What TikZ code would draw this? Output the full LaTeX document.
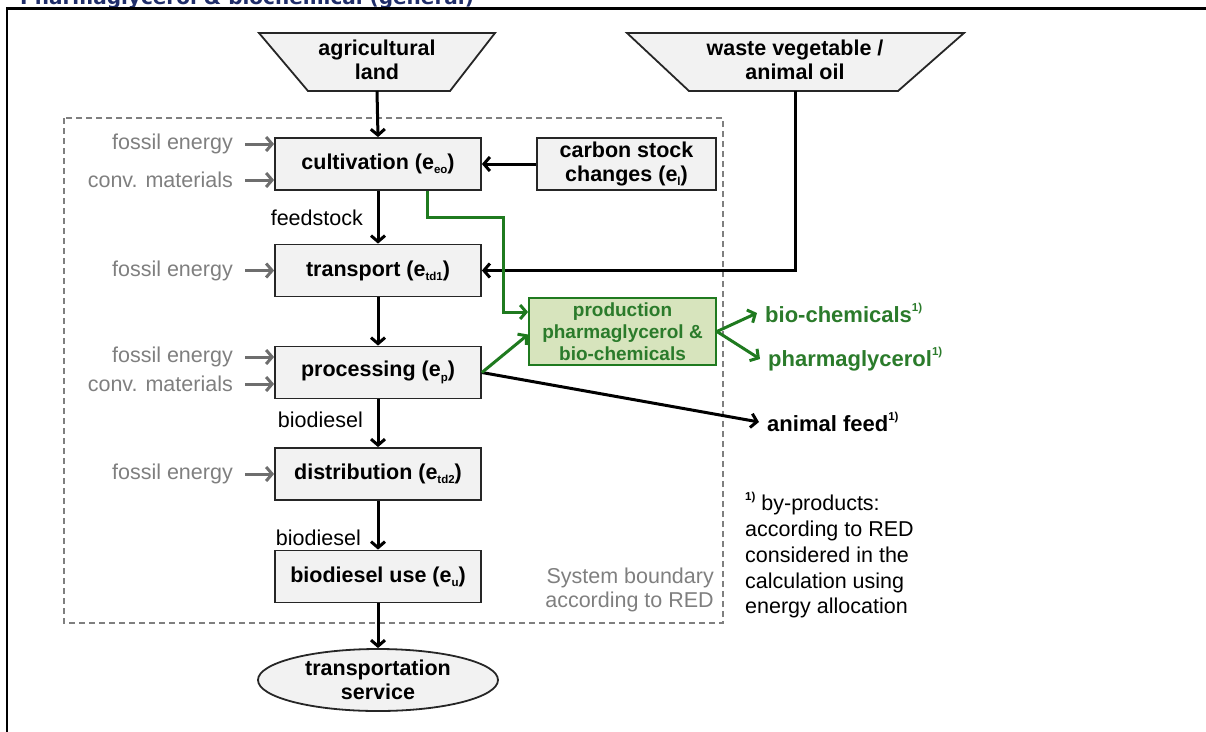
\documentclass[tikz,border=0pt]{standalone}
\usepackage{fontspec}
\setmainfont{Liberation Sans}
\newfontfamily\titlefont{DejaVu Sans}
\usetikzlibrary{arrows.meta,shapes.geometric,calc}

\definecolor{boxfill}{HTML}{F2F2F2}
\definecolor{edge}{HTML}{262626}
\definecolor{graytxt}{HTML}{7F7F7F}
\definecolor{grayarr}{HTML}{6E6E6E}
\definecolor{grn}{HTML}{1F7A1F}
\definecolor{grntxt}{HTML}{2B7B2B}
\definecolor{prodfill}{HTML}{D7E4BD}
\definecolor{navy}{HTML}{1F2D69}

\newcommand\boxfont{\fontsize{21.5}{24}\selectfont\bfseries}
\newcommand\lblfont{\fontsize{21.5}{24}\selectfont}
\newcommand\lowidx[1]{\raisebox{-0.2em}{\fontsize{11.5}{11.5}\selectfont #1}}
\newcommand\notemark{\raisebox{0.5em}{\fontsize{11.5}{11.5}\selectfont\bfseries 1)}}

\begin{document}
\begin{tikzpicture}[x=1pt,y=-1pt,
  every node/.style={inner sep=0pt},
  stagebox/.style={draw=edge, line width=1.8pt, fill=boxfill,
    minimum width=206pt, minimum height=52pt, font=\boxfont},
  srcshape/.style={draw=edge, line width=1.8pt, fill=boxfill},
  inlabel/.style={text=graytxt, font=\lblfont, anchor=east},
  flowlabel/.style={font=\lblfont, anchor=east},
  flow/.style={draw=black, line width=3pt, -{Straight Barb[length=6pt,width=14pt]}},
  inflow/.style={flow, draw=grayarr},
  gflow/.style={flow, draw=grn},
  product/.style={font=\fontsize{22}{24}\selectfont\bfseries, anchor=west, inner xsep=8pt}
]
\useasboundingbox (0,0) rectangle (1206,731);

% heading and outer frame
\node[anchor=base west, text=navy, font=\titlefont\fontsize{20}{22}\selectfont\bfseries]
  (title) at (20,4.5) {Pharmaglycerol \& biochemical (general)};
\draw[line width=2.6pt] (7,745) -- (7,8.5) -- (1220,8.5);

% system boundary
\draw[graytxt, line width=1.2pt, dash pattern=on 6pt off 4pt] (64,118) rectangle (723,623);
\node[anchor=east, align=right, text=graytxt, font=\fontsize{21.5}{24}\selectfont]
  (sysb) at (714,590) {System boundary\\according to RED};

% raw material sources
\draw[srcshape] (259,33) -- (495,33) -- (450,91) -- (308,91) -- cycle;
\node[align=center, font=\boxfont] (agri) at (377,60) {agricultural\\land};
\coordinate (agribot) at (377,91);
\draw[srcshape] (627,33) -- (964,33) -- (898,91) -- (689,91) -- cycle;
\node[align=center, font=\boxfont] (waste) at (795,60) {waste vegetable /\\animal oil};
\coordinate (wastebot) at (795,91);

% process chain
\node[stagebox] (cult)  at (378,164)   {cultivation (e\lowidx{eo})};
\node[stagebox] (trans) at (378,270.5) {transport (e\lowidx{td1})};
\node[stagebox] (proc)  at (378,372.5) {processing (e\lowidx{p})};
\node[stagebox] (dist)  at (378,474)   {distribution (e\lowidx{td2})};
\node[stagebox] (use)   at (378,576.5) {biodiesel use (e\lowidx{u})};
\node[stagebox, minimum width=179pt, align=center]
  (carbon) at (626.5,164) {carbon stock\\changes (e\lowidx{l})};
\node[ellipse, draw=edge, line width=1.8pt, fill=boxfill, minimum width=240pt,
  minimum height=62pt, align=center, font=\boxfont] (service) at (378,680)
  {transportation\\service};

% by-product processing
\node[draw=grn, line width=1.8pt, fill=prodfill, minimum width=187pt, minimum height=67pt,
  align=center, text=grntxt, font=\fontsize{19}{22}\selectfont\bfseries]
  (prod) at (622.5,331.5) {production\\pharmaglycerol \&\\bio-chemicals};

% external inputs
\node[inlabel] (fe1) at (233,144) {fossil energy};
\node[inlabel] (cm1) at (233,180) {conv. materials};
\node[inlabel] (fe2) at (233,270.5) {fossil energy};
\node[inlabel] (fe3) at (233,357) {fossil energy};
\node[inlabel] (cm3) at (233,384) {conv. materials};
\node[inlabel] (fe4) at (233,474) {fossil energy};
\foreach \n/\s in {fe1/cult, cm1/cult, fe2/trans, fe3/proc, cm3/proc, fe4/dist}
  \draw[inflow] ([xshift=12pt]\n.east) -- (\n.east -| \s.west);

% products
\node[product, text=grntxt] (biochem) at (757,313) {bio-chemicals\notemark};
\node[product, text=grntxt] (pharma)  at (760,359) {pharmaglycerol\notemark};
\node[product] (feed) at (759,422) {animal feed\notemark};

% main flow
\draw[flow] (agribot) -- (cult.north);
\draw[flow] (cult.south) -- (trans.north);
\draw[flow] (trans.south) -- (proc.north);
\draw[flow] (proc.south) -- (dist.north);
\draw[flow] (dist.south) -- (use.north);
\draw[flow] (use.south) -- (service.north);
\draw[flow] (carbon.west) -- (cult.east);
\draw[flow] (wastebot) |- (trans.east);
\draw[flow] (proc.east) -- (feed.west);

\node[flowlabel] (fs)  at (363,218) {feedstock};
\node[flowlabel] (bd1) at (363,420) {biodiesel};
\node[flowlabel] (bd2) at (361,538) {biodiesel};

% green by-product routes
\draw[gflow] ([xshift=49pt]cult.south) |- (503,217) |- ([yshift=19.5pt]prod.west);
\draw[gflow] (proc.east) -- ([yshift=-3pt]prod.west);
\draw[gflow] (prod.east) -- (biochem.west);
\draw[gflow] (prod.east) -- (pharma.west);

% footnote
\node[anchor=west, align=left, font=\fontsize{21.5}{25.7}\selectfont] (note) at (745,555)
  {\notemark\ by-products:\\according to RED\\considered in the\\calculation using\\energy allocation};
\end{tikzpicture}
\end{document}
